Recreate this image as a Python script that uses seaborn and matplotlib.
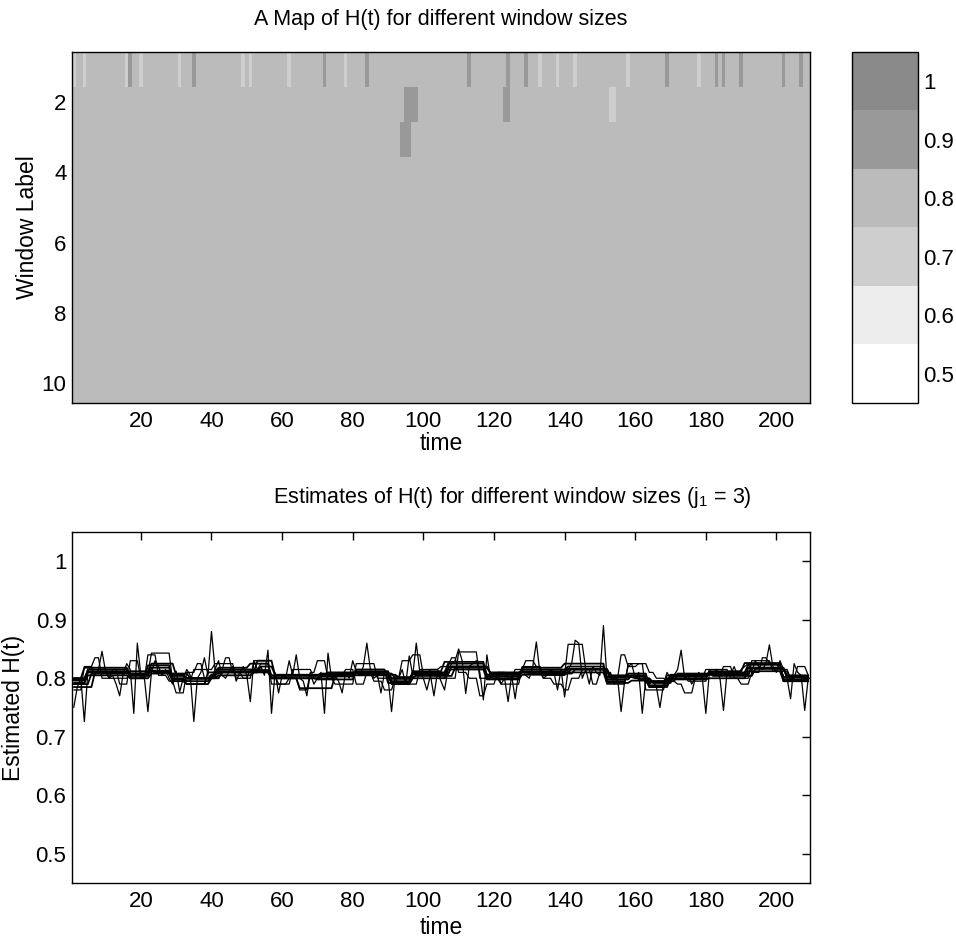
import numpy as np
import pandas as pd
import matplotlib
matplotlib.use("Agg")
import matplotlib.pyplot as plt
from matplotlib.colors import ListedColormap
import seaborn as sns

# ---------------- data ----------------
n_time = 209
n_windows = 10
map_default = 0.8
# cells of the H(t) map that differ from the default level (window label -> times)
map_low_07 = {1: [1, 4, 16, 20, 31, 49, 51, 62, 78, 133, 138, 143, 158, 178],
              2: [153, 154]}
map_high_09 = {1: [17, 35, 72, 84, 113, 124, 129, 169, 183, 185, 190, 202, 207],
               2: [95, 96, 97, 98, 123, 124],
               3: [94, 95, 96]}
cbar_ticks = [0.5, 0.6, 0.7, 0.8, 0.9, 1.0]
cbar_labels = ["0.5", "0.6", "0.7", "0.8", "0.9", "1"]
map_colors = ["#ffffff", "#ededed", "#cecece", "#bbbbbb", "#999999", "#8a8a8a"]
time_ticks = [20, 40, 60, 80, 100, 120, 140, 160, 180, 200]
window_ticks = [2, 4, 6, 8, 10]
h_ticks = [0.5, 0.6, 0.7, 0.8, 0.9, 1.0]
h_labels = ["0.5", "0.6", "0.7", "0.8", "0.9", "1"]

# estimates (x1000) for window label 1 (finest window)
h1 = [750, 785, 800, 726, 812, 820, 805, 815, 846, 812,
      800, 805, 790, 770, 808, 825, 815, 740, 860, 805,
      800, 743, 810, 830, 820, 805, 815, 800, 790, 812,
      777, 800, 815, 805, 726, 800, 810, 835, 805, 880,
      815, 830, 805, 800, 812, 820, 795, 810, 820, 805,
      760, 830, 815, 820, 805, 848, 740, 810, 775, 805,
      800, 830, 805, 840, 800, 795, 770, 808, 790, 800,
      810, 740, 843, 800, 805, 795, 775, 810, 800, 830,
      812, 805, 820, 860, 815, 800, 805, 775, 810, 800,
      743, 805, 800, 815, 790, 838, 805, 860, 810, 800,
      780, 805, 770, 810, 795, 780, 815, 825, 830, 850,
      830, 774, 820, 825, 830, 810, 763, 840, 800, 805,
      810, 790, 800, 760, 805, 765, 810, 815, 805, 800,
      820, 862, 810, 800, 805, 815, 810, 780, 815, 768,
      815, 825, 865, 860, 800, 815, 790, 820, 810, 805,
      890, 800, 810, 790, 800, 743, 795, 820, 825, 800,
      810, 740, 800, 790, 795, 785, 750, 790, 810, 800,
      805, 815, 848, 800, 805, 790, 800, 810, 800, 740,
      810, 805, 815, 800, 745, 810, 805, 820, 805, 815,
      820, 825, 810, 830, 820, 815, 825, 857, 820, 810,
      830, 815, 800, 765, 825, 810, 805, 745, 800]

# larger windows: held levels (x1000) and how many time steps each lasts
h2_vals = [780, 820, 835, 800, 815, 790, 830, 800, 840, 805,
           795, 775, 810, 825, 800, 815, 835, 810, 800, 815,
           825, 805, 790, 800, 780, 810, 830, 800, 805, 815,
           790, 810, 795, 780, 800, 830, 840, 805, 815, 820,
           835, 810, 800, 770, 790, 810, 800, 815, 830, 820,
           800, 790, 780, 800, 815, 790, 810, 800, 840, 820,
           825, 810, 800, 795, 790, 775, 800, 815, 805, 820,
           800, 790, 810, 835, 825, 815, 800, 820, 805, 790,
           810, 825, 800]
h2_lens = [3, 3, 2, 3, 2, 3, 3, 2, 3, 3, 2, 3, 3, 2, 3, 3, 2, 3, 2, 3,
           3, 2, 3, 3, 3, 2, 3, 3, 2, 3, 3, 2, 3, 3, 2, 3, 3, 2, 3, 3,
           2, 3, 3, 2, 3, 3, 2, 3, 3, 2, 3, 3, 2, 3, 3, 2, 3, 3, 2, 3,
           3, 2, 3, 3, 2, 3, 3, 2, 3, 3, 2, 3, 3, 2, 3, 3, 2, 3, 3, 2,
           3, 3, 3]
h3_vals = [790, 815, 800, 808, 843, 795, 815, 825, 800, 830, 790, 815,
           800, 790, 825, 800, 790, 815, 800, 845, 800, 790, 820, 805,
           858, 815, 790, 825, 780, 805, 795, 815, 800, 830, 812, 795]
h3_lens = [4, 6, 6, 6, 6, 6, 6, 6, 5, 5, 6, 6, 6, 6, 6, 6, 6, 6, 5, 6,
           6, 6, 6, 7, 5, 6, 6, 5, 6, 6, 6, 6, 6, 6, 5, 6]
h4_vals = [800, 818, 800, 822, 798, 790, 810, 818, 825, 800, 798, 815, 792,
           812, 828, 800, 818, 825, 795, 808, 785, 800, 812, 826, 795]
h4_lens = [3, 13, 5, 7, 4, 6, 3, 9, 6, 13, 11, 9, 7, 9, 12, 10, 12, 12, 6,
           6, 5, 12, 10, 11, 10]
h5_vals = [790, 808, 812, 810, 808, 800, 800, 810, 820, 806, 810, 806, 802,
           804, 818, 810, 808, 815, 805, 798, 795, 808, 804, 816, 805]
h5_lens = [5, 11, 7, 5, 5, 7, 2, 11, 4, 15, 9, 11, 5, 11, 10, 11, 13, 10, 8,
           4, 7, 10, 12, 9, 10]
h6_vals = [798, 815, 804, 818, 800, 795, 803, 815, 812, 800, 803, 812, 795,
           810, 825, 803, 815, 820, 798, 805, 788, 803, 810, 823, 798]
h6_lens = [4, 12, 6, 6, 4, 7, 2, 10, 5, 14, 10, 10, 6, 10, 11, 10, 13, 11, 7,
           5, 6, 11, 11, 10, 10]
h7_vals = [785, 810, 808, 825, 805, 800, 808, 810, 830, 805, 808, 808, 800,
           806, 820, 808, 810, 816, 802, 800, 792, 806, 806, 818, 802]
h7_lens = [6, 10, 6, 7, 3, 8, 2, 10, 5, 13, 10, 11, 6, 10, 11, 9, 14, 11, 7,
           5, 6, 11, 11, 10, 9]
h8_vals = [792, 805, 800, 808, 795, 790, 800, 805, 810, 800, 783, 805, 790,
           800, 815, 798, 806, 810, 792, 796, 785, 798, 800, 812, 795]
h8_lens = [4, 12, 6, 6, 4, 7, 2, 10, 5, 8, 10, 16, 6, 10, 11, 10, 13, 11, 7,
           5, 6, 11, 11, 10, 10]
h9_vals = [800, 812, 808, 812, 806, 800, 806, 812, 814, 805, 806, 810, 800,
           808, 820, 806, 812, 816, 802, 804, 795, 806, 808, 818, 802]
h9_lens = [4, 12, 6, 6, 4, 7, 2, 10, 5, 14, 10, 10, 6, 10, 11, 10, 13, 11, 7,
           5, 6, 11, 11, 10, 10]
h10_vals = [796, 810, 807, 813, 804, 799, 805, 811, 813, 804, 805, 809, 799,
            807, 819, 806, 811, 815, 801, 803, 793, 805, 807, 817, 801]
h10_lens = [4, 12, 6, 6, 4, 7, 2, 10, 5, 14, 10, 10, 6, 10, 11, 10, 13, 11, 7,
            5, 6, 11, 11, 10, 10]

# ---------------- build tables ----------------
time = np.arange(1, n_time + 1)
hmap = np.full((n_windows, n_time), map_default)
for w, ts in map_low_07.items():
    hmap[w - 1, np.array(ts) - 1] = 0.7
for w, ts in map_high_09.items():
    hmap[w - 1, np.array(ts) - 1] = 0.9
map_df = pd.DataFrame(hmap, index=np.arange(1, n_windows + 1), columns=time)


def held(vals, lens):
    return (np.repeat(np.array(vals, dtype=float), lens) / 1000.0)[:n_time]


series = [np.array(h1, dtype=float)[:n_time] / 1000.0,
          held(h2_vals, h2_lens), held(h3_vals, h3_lens),
          held(h4_vals, h4_lens), held(h5_vals, h5_lens),
          held(h6_vals, h6_lens), held(h7_vals, h7_lens),
          held(h8_vals, h8_lens), held(h9_vals, h9_lens),
          held(h10_vals, h10_lens)]

# ---------------- style ----------------
sns.set_style("white")
plt.rcParams["font.family"] = ["Liberation Sans", "DejaVu Sans"]
plt.rcParams["mathtext.default"] = "regular"
plt.rcParams["axes.linewidth"] = 1.0
for key in ["text.color", "axes.labelcolor", "xtick.color", "ytick.color",
            "axes.edgecolor"]:
    plt.rcParams[key] = "black"
TICK = 16
LAB = 16.5
TIT = 15.5

W, H = 956, 944
fig = plt.figure(figsize=(W / 100, H / 100), dpi=100)
ax1 = fig.add_axes([72 / W, 1 - 403 / H, 738 / W, 351 / H])
cax = fig.add_axes([852 / W, 1 - 403 / H, 66 / W, 351 / H])
ax2 = fig.add_axes([72 / W, 1 - 883 / H, 738 / W, 351 / H])

cmap = ListedColormap(map_colors)
sns.heatmap(map_df, ax=ax1, cmap=cmap, vmin=0.45, vmax=1.05, cbar_ax=cax,
            linewidths=0, rasterized=True, cbar_kws={"ticks": cbar_ticks})
ax1.set_xticks([t - 0.5 for t in time_ticks])
ax1.set_xticklabels([str(t) for t in time_ticks], rotation=0)
ax1.set_yticks([w - 0.5 for w in window_ticks])
ax1.set_yticklabels([str(w) for w in window_ticks], rotation=0)
ax1.set_xlabel("time", fontsize=LAB)
ax1.set_ylabel("Window Label", fontsize=LAB)
ax1.xaxis.set_label_coords(0.5, -0.083)
ax1.yaxis.set_label_coords(-0.045, 0.5)
for sp in ax1.spines.values():
    sp.set_visible(True)
    sp.set_color("black")
    sp.set_linewidth(1.0)
ax1.tick_params(direction="in", length=6, width=1, top=True, right=True,
                bottom=True, left=True, labelsize=TICK, color="black")
ax1.tick_params(axis="x", pad=6)
ax1.tick_params(axis="y", pad=4)

cbar = ax1.collections[0].colorbar
cbar.set_ticks(cbar_ticks)
cbar.set_ticklabels(cbar_labels)
cbar.outline.set_edgecolor("black")
cbar.outline.set_linewidth(1.0)
cax.tick_params(direction="in", length=4, width=1, left=True, right=True,
                labelsize=TICK, pad=4, color="black")

for i, s in enumerate(series):
    sns.lineplot(x=time, y=s, ax=ax2, color="black",
                 linewidth=0.9 if i < 3 else 1.3, estimator=None)
ax2.set_xlim(0.5, n_time + 0.5)
ax2.set_ylim(0.45, 1.05)
ax2.set_xticks(time_ticks)
ax2.set_xticklabels([str(t) for t in time_ticks])
ax2.set_yticks(h_ticks)
ax2.set_yticklabels(h_labels)
ax2.set_xlabel("time", fontsize=LAB)
ax2.set_ylabel("Estimated H(t)", fontsize=LAB)
ax2.xaxis.set_label_coords(0.5, -0.094)
ax2.yaxis.set_label_coords(-0.064, 0.5)
for sp in ax2.spines.values():
    sp.set_color("black")
    sp.set_linewidth(1.0)
ax2.tick_params(direction="in", length=6, width=1, top=True, right=True,
                labelsize=TICK, color="black")
ax2.tick_params(axis="x", pad=6)
ax2.tick_params(axis="y", pad=4)

fig.text(441 / W, 1 - 20 / H, "A Map of H(t) for different window sizes",
         ha="center", va="center", fontsize=TIT)
fig.text(752 / W, 1 - 497 / H,
         "Estimates of H(t) for different window sizes (j$_1$ = 3)",
         ha="right", va="center", fontsize=TIT)

fig.savefig("out.png", dpi=100)
